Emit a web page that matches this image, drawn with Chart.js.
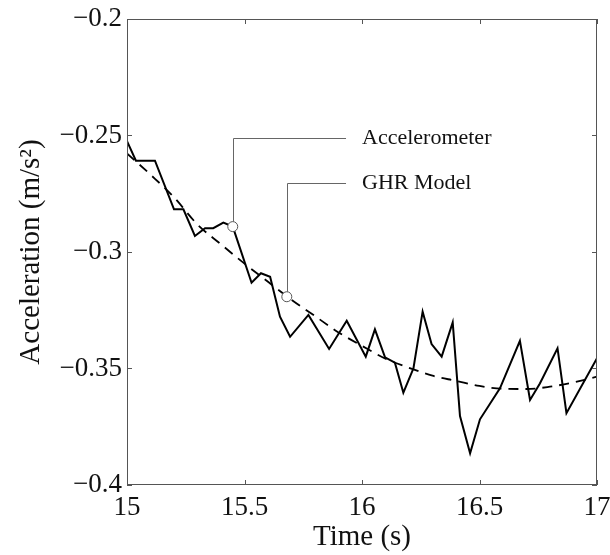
<!DOCTYPE html>
<html>
<head>
<meta charset="utf-8">
<script src="https://cdn.jsdelivr.net/npm/chart.js@4/dist/chart.umd.min.js"></script>
<style>
  html, body { margin: 0; padding: 0; background: #fff; }
  #wrap { width: 610px; height: 555px; }
</style>
</head>
<body>
<div id="wrap"><canvas id="accelChart"></canvas></div>
<script>
// --- Data ---
const accelTime = [15.000, 15.038, 15.119, 15.200, 15.240, 15.289, 15.332, 15.367, 15.410, 15.450,
  15.530, 15.570, 15.609, 15.651, 15.694, 15.772, 15.860, 15.935, 16.016, 16.055,
  16.098, 16.140, 16.176, 16.219, 16.258, 16.296, 16.339, 16.386, 16.417, 16.460,
  16.502, 16.587, 16.672, 16.715, 16.757, 16.832, 16.870, 17.000];
const accelValue = [-0.2524, -0.2608, -0.2608, -0.2817, -0.2817, -0.2931, -0.2898, -0.2898, -0.2874, -0.2891,
  -0.3132, -0.3091, -0.3106, -0.3278, -0.3364, -0.3270, -0.3416, -0.3295, -0.3449, -0.3332,
  -0.3452, -0.3475, -0.3604, -0.3499, -0.3256, -0.3395, -0.3449, -0.3302, -0.3704, -0.3864,
  -0.3718, -0.3585, -0.3381, -0.3635, -0.3564, -0.3413, -0.3692, -0.3456];

const modelTime = [15.0, 15.1, 15.2, 15.3, 15.4, 15.5, 15.6, 15.7, 15.8, 15.9, 16.0,
  16.1, 16.2, 16.3, 16.4, 16.5, 16.6, 16.7, 16.8, 16.9, 17.0];
const modelValue = [-0.2577, -0.2668, -0.2765, -0.2882, -0.2967, -0.3050, -0.3128, -0.3205, -0.3275, -0.3345, -0.3403,
  -0.3458, -0.3497, -0.3531, -0.3553, -0.3575, -0.3587, -0.3588, -0.3578, -0.3560, -0.3535];

const xTicks = [15, 15.5, 16, 16.5, 17];
const yTicks = [-0.4, -0.35, -0.3, -0.25, -0.2];

// callouts: marked point on a curve, elbow height, label
const callouts = [
  { label: 'Accelerometer', t: 15.45, v: -0.2891, elbowV: -0.2511 },
  { label: 'GHR Model', t: 15.68, v: -0.3192, elbowV: -0.2705 }
];
const calloutLineEnd = 15.932;
const calloutTextStart = 16.0;

const SERIF = '"Liberation Serif", "Times New Roman", serif';
const FRAME = '#555';

const toPoints = (xs, ys) => xs.map((x, i) => ({ x: x, y: ys[i] }));
const fmtTick = (v) => {
  const s = String(Math.abs(Math.round(v * 100) / 100));
  return v < 0 ? '\u2212' + s : s;
};

// box around the plot with inward ticks on all four sides
const frameTicks = {
  id: 'frameTicks',
  afterDatasetsDraw(chart) {
    const { ctx, chartArea: a, scales } = chart;
    const len = 5;
    ctx.save();
    ctx.strokeStyle = FRAME;
    ctx.lineWidth = 1;
    ctx.strokeRect(a.left + 0.5, a.top + 0.5, a.right - a.left - 1, a.bottom - a.top - 1);
    ctx.beginPath();
    xTicks.forEach(t => {
      const px = Math.round(scales.x.getPixelForValue(t)) + 0.5;
      ctx.moveTo(px, a.bottom); ctx.lineTo(px, a.bottom - len);
      ctx.moveTo(px, a.top); ctx.lineTo(px, a.top + len);
    });
    yTicks.forEach(v => {
      const py = Math.round(scales.y.getPixelForValue(v)) + 0.5;
      ctx.moveTo(a.left, py); ctx.lineTo(a.left + len, py);
      ctx.moveTo(a.right, py); ctx.lineTo(a.right - len, py);
    });
    ctx.stroke();
    ctx.restore();
  }
};

// leader lines, hollow markers and labels
const calloutPlugin = {
  id: 'callouts',
  afterDatasetsDraw(chart) {
    const { ctx, scales } = chart;
    const xEnd = scales.x.getPixelForValue(calloutLineEnd);
    const xText = scales.x.getPixelForValue(calloutTextStart);
    ctx.save();
    callouts.forEach(c => {
      const px = scales.x.getPixelForValue(c.t);
      const py = scales.y.getPixelForValue(c.v);
      const ey = Math.round(scales.y.getPixelForValue(c.elbowV)) + 0.5;
      ctx.strokeStyle = '#666';
      ctx.lineWidth = 1;
      ctx.beginPath();
      ctx.moveTo(Math.round(px) + 0.5, py - 5);
      ctx.lineTo(Math.round(px) + 0.5, ey);
      ctx.lineTo(xEnd, ey);
      ctx.stroke();
      ctx.beginPath();
      ctx.arc(px, py, 5, 0, Math.PI * 2);
      ctx.fillStyle = '#fff';
      ctx.fill();
      ctx.strokeStyle = '#555';
      ctx.stroke();
      ctx.fillStyle = '#111';
      ctx.font = '22px ' + SERIF;
      ctx.textBaseline = 'middle';
      ctx.textAlign = 'left';
      ctx.fillText(c.label, xText, ey);
    });
    ctx.restore();
  }
};

const ctx = document.getElementById('accelChart').getContext('2d');
new Chart(ctx, {
  type: 'scatter',
  data: {
    datasets: [
      {
        label: 'Accelerometer',
        data: toPoints(accelTime, accelValue),
        showLine: true,
        borderColor: '#000',
        borderWidth: 2,
        pointRadius: 0,
        tension: 0
      },
      {
        label: 'GHR Model',
        data: toPoints(modelTime, modelValue),
        showLine: true,
        borderColor: '#000',
        borderWidth: 1.8,
        borderDash: [10, 7],
        pointRadius: 0,
        cubicInterpolationMode: 'monotone'
      }
    ]
  },
  options: {
    responsive: true,
    maintainAspectRatio: false,
    animation: false,
    layout: { padding: { left: 0, top: 19, right: 13, bottom: 0 } },
    plugins: {
      legend: { display: false },
      tooltip: { enabled: false }
    },
    scales: {
      x: {
        type: 'linear',
        min: 15,
        max: 17,
        afterBuildTicks: (s) => { s.ticks = xTicks.map(v => ({ value: v })); },
        afterFit: (s) => { s.height = 70; s.paddingLeft = 0; s.paddingRight = 0; },
        grid: { display: false, drawTicks: false },
        border: { display: false },
        ticks: {
          padding: 7,
          color: '#111',
          font: { family: SERIF, size: 27 },
          callback: (v) => fmtTick(v)
        },
        title: {
          display: true,
          text: 'Time (s)',
          color: '#111',
          font: { family: SERIF, size: 29 },
          padding: { top: 0, bottom: 0 }
        }
      },
      y: {
        type: 'linear',
        min: -0.4,
        max: -0.2,
        afterBuildTicks: (s) => { s.ticks = yTicks.map(v => ({ value: v })); },
        afterFit: (s) => { s.width = 127; s.paddingTop = 0; s.paddingBottom = 0; },
        grid: { display: false, drawTicks: false },
        border: { display: false },
        ticks: {
          padding: 5,
          color: '#111',
          font: { family: SERIF, size: 27 },
          callback: (v) => fmtTick(v)
        },
        title: {
          display: true,
          text: 'Acceleration (m/s\u00B2)',
          color: '#111',
          font: { family: SERIF, size: 29 },
          padding: { top: 14, bottom: 0 }
        }
      }
    }
  },
  plugins: [frameTicks, calloutPlugin]
});
</script>
</body>
</html>
